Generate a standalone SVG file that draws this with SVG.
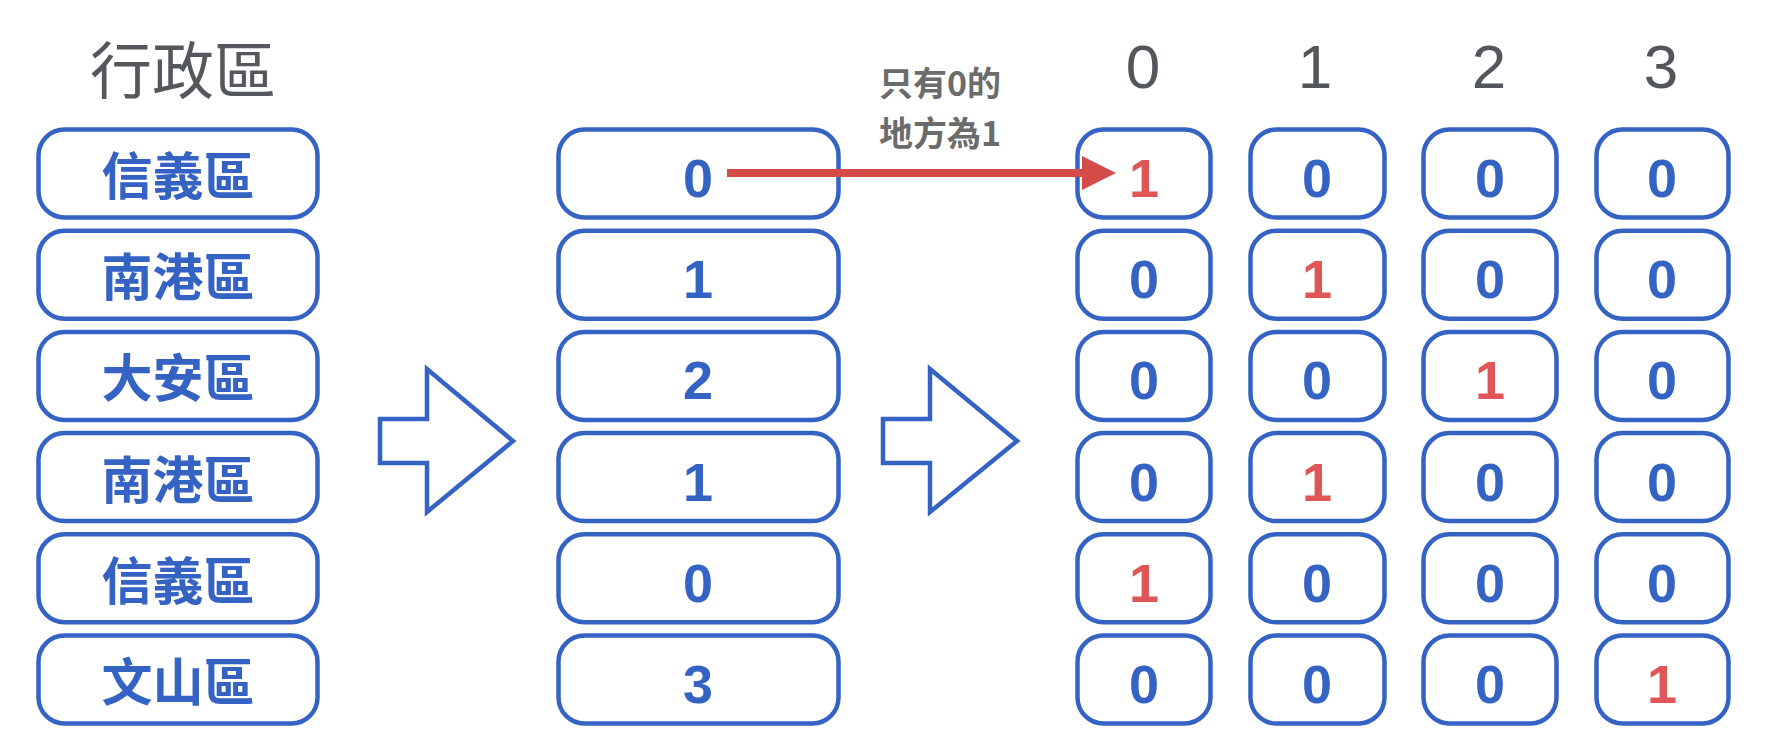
<svg xmlns="http://www.w3.org/2000/svg" width="1768" height="756" viewBox="0 0 1768 756">
<style>
.box{fill:#ffffff;stroke:#3563c4;stroke-width:4.5}
.cjk{font-family:"Noto Sans CJK TC","Noto Sans CJK SC",sans-serif;font-weight:700;font-size:51px;fill:#3563c4;text-anchor:middle}
.num{font-family:"Liberation Sans",Arial,sans-serif;font-weight:700;font-size:54px;fill:#3563c4;text-anchor:middle}
.red{fill:#e05656}
.hdr{font-family:"Liberation Sans",Arial,sans-serif;font-size:62px;fill:#53575c;text-anchor:middle}
.title{font-family:"Noto Sans CJK TC","Noto Sans CJK SC",sans-serif;font-size:62px;fill:#54585c;text-anchor:middle}
.note{font-family:"Noto Sans CJK TC","Noto Sans CJK SC",sans-serif;font-weight:700;font-size:34px;fill:#6b6b6b}
.hollow{fill:#ffffff;stroke:#3563c4;stroke-width:4.5;stroke-linejoin:miter}
</style>
<defs>
<marker id="redhead" markerUnits="userSpaceOnUse" viewBox="0 0 34 34" markerWidth="34" markerHeight="34" refX="4" refY="17" orient="auto">
<path d="M0,0 L34,17 L0,34 z" fill="#d44c4a"/>
</marker>
</defs>
<rect width="1768" height="756" fill="#ffffff"/>

<g id="titles">
<text class="title" x="183" y="94">行政區</text>
<text class="hdr" x="1143" y="88">0</text>
<text class="hdr" x="1315" y="88">1</text>
<text class="hdr" x="1489" y="88">2</text>
<text class="hdr" x="1661" y="88">3</text>
<text class="note" x="879" y="96">只有0的</text>
<text class="note" x="879" y="146">地方為1</text>
</g>

<g id="district-col">
<g id="d0"><rect class="box" x="38.5" y="129.5" width="279" height="88" rx="26"/><text class="cjk" x="178" y="195">信義區</text></g>
<g id="d1"><rect class="box" x="38.5" y="230.7" width="279" height="88" rx="26"/><text class="cjk" x="178" y="296.2">南港區</text></g>
<g id="d2"><rect class="box" x="38.5" y="331.9" width="279" height="88" rx="26"/><text class="cjk" x="178" y="397.4">大安區</text></g>
<g id="d3"><rect class="box" x="38.5" y="433.1" width="279" height="88" rx="26"/><text class="cjk" x="178" y="498.6">南港區</text></g>
<g id="d4"><rect class="box" x="38.5" y="534.3" width="279" height="88" rx="26"/><text class="cjk" x="178" y="599.8">信義區</text></g>
<g id="d5"><rect class="box" x="38.5" y="635.5" width="279" height="88" rx="26"/><text class="cjk" x="178" y="701">文山區</text></g>
</g>

<g id="label-col">
<g id="l0"><rect class="box" x="558.5" y="129.5" width="280" height="88" rx="26"/><text class="num" x="698" y="197">0</text></g>
<g id="l1"><rect class="box" x="558.5" y="230.7" width="280" height="88" rx="26"/><text class="num" x="698" y="298.2">1</text></g>
<g id="l2"><rect class="box" x="558.5" y="331.9" width="280" height="88" rx="26"/><text class="num" x="698" y="399.4">2</text></g>
<g id="l3"><rect class="box" x="558.5" y="433.1" width="280" height="88" rx="26"/><text class="num" x="698" y="500.6">1</text></g>
<g id="l4"><rect class="box" x="558.5" y="534.3" width="280" height="88" rx="26"/><text class="num" x="698" y="601.8">0</text></g>
<g id="l5"><rect class="box" x="558.5" y="635.5" width="280" height="88" rx="26"/><text class="num" x="698" y="703">3</text></g>
</g>

<g id="onehot-grid">
<g id="r0">
<g id="c00"><rect class="box" x="1077.5" y="129.5" width="133" height="88" rx="26"/><text class="num red" x="1144" y="197">1</text></g>
<g id="c01"><rect class="box" x="1250.5" y="129.5" width="134" height="88" rx="26"/><text class="num" x="1317" y="197">0</text></g>
<g id="c02"><rect class="box" x="1423.5" y="129.5" width="133" height="88" rx="26"/><text class="num" x="1490" y="197">0</text></g>
<g id="c03"><rect class="box" x="1596.5" y="129.5" width="132" height="88" rx="26"/><text class="num" x="1662" y="197">0</text></g>
</g>
<g id="r1">
<g id="c10"><rect class="box" x="1077.5" y="230.7" width="133" height="88" rx="26"/><text class="num" x="1144" y="298.2">0</text></g>
<g id="c11"><rect class="box" x="1250.5" y="230.7" width="134" height="88" rx="26"/><text class="num red" x="1317" y="298.2">1</text></g>
<g id="c12"><rect class="box" x="1423.5" y="230.7" width="133" height="88" rx="26"/><text class="num" x="1490" y="298.2">0</text></g>
<g id="c13"><rect class="box" x="1596.5" y="230.7" width="132" height="88" rx="26"/><text class="num" x="1662" y="298.2">0</text></g>
</g>
<g id="r2">
<g id="c20"><rect class="box" x="1077.5" y="331.9" width="133" height="88" rx="26"/><text class="num" x="1144" y="399.4">0</text></g>
<g id="c21"><rect class="box" x="1250.5" y="331.9" width="134" height="88" rx="26"/><text class="num" x="1317" y="399.4">0</text></g>
<g id="c22"><rect class="box" x="1423.5" y="331.9" width="133" height="88" rx="26"/><text class="num red" x="1490" y="399.4">1</text></g>
<g id="c23"><rect class="box" x="1596.5" y="331.9" width="132" height="88" rx="26"/><text class="num" x="1662" y="399.4">0</text></g>
</g>
<g id="r3">
<g id="c30"><rect class="box" x="1077.5" y="433.1" width="133" height="88" rx="26"/><text class="num" x="1144" y="500.6">0</text></g>
<g id="c31"><rect class="box" x="1250.5" y="433.1" width="134" height="88" rx="26"/><text class="num red" x="1317" y="500.6">1</text></g>
<g id="c32"><rect class="box" x="1423.5" y="433.1" width="133" height="88" rx="26"/><text class="num" x="1490" y="500.6">0</text></g>
<g id="c33"><rect class="box" x="1596.5" y="433.1" width="132" height="88" rx="26"/><text class="num" x="1662" y="500.6">0</text></g>
</g>
<g id="r4">
<g id="c40"><rect class="box" x="1077.5" y="534.3" width="133" height="88" rx="26"/><text class="num red" x="1144" y="601.8">1</text></g>
<g id="c41"><rect class="box" x="1250.5" y="534.3" width="134" height="88" rx="26"/><text class="num" x="1317" y="601.8">0</text></g>
<g id="c42"><rect class="box" x="1423.5" y="534.3" width="133" height="88" rx="26"/><text class="num" x="1490" y="601.8">0</text></g>
<g id="c43"><rect class="box" x="1596.5" y="534.3" width="132" height="88" rx="26"/><text class="num" x="1662" y="601.8">0</text></g>
</g>
<g id="r5">
<g id="c50"><rect class="box" x="1077.5" y="635.5" width="133" height="88" rx="26"/><text class="num" x="1144" y="703">0</text></g>
<g id="c51"><rect class="box" x="1250.5" y="635.5" width="134" height="88" rx="26"/><text class="num" x="1317" y="703">0</text></g>
<g id="c52"><rect class="box" x="1423.5" y="635.5" width="133" height="88" rx="26"/><text class="num" x="1490" y="703">0</text></g>
<g id="c53"><rect class="box" x="1596.5" y="635.5" width="132" height="88" rx="26"/><text class="num red" x="1662" y="703">1</text></g>
</g>
</g>

<g id="connectors">
<polygon class="hollow" points="380,419 427,419 427,369 513,441 427,512 427,463 380,463"/>
<polygon class="hollow" points="883,419 930,419 930,369 1017,441 930,512 930,463 883,463"/>
<path d="M727,173 H1086" stroke="#d44c4a" stroke-width="8" fill="none" marker-end="url(#redhead)"/>
</g>
</svg>
